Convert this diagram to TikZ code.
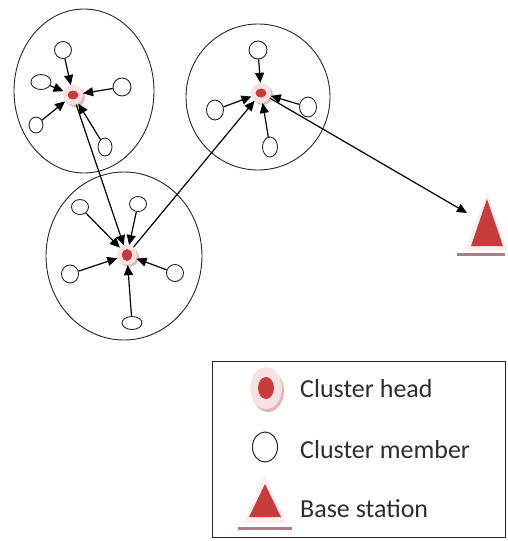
\documentclass[tikz,border=0pt]{standalone}
\usepackage{fontspec}
\setmainfont{Carlito}
\usetikzlibrary{arrows.meta,shapes.geometric}

\definecolor{chred}{HTML}{C63B3C}
\definecolor{halo}{HTML}{F7E2E2}
\definecolor{trihalo}{HTML}{FAEDED}
\definecolor{haloshade}{HTML}{E2B6B6}
\definecolor{barcol}{HTML}{A98088}
\definecolor{legtext}{HTML}{2E2E2E}

\tikzset{
  cluster/.style={draw=black!85, line width=0.9pt},
  member/.style={ellipse, draw=black!85, line width=0.9pt, fill=white,
                 inner sep=0pt, minimum width=17pt, minimum height=17pt},
  head/.style={circle, fill=halo, inner sep=0pt, minimum size=20pt},
  link/.style={-{Triangle[length=10pt,width=9pt]}, line width=1.2pt, black},
  legendtext/.style={anchor=base west, font=\fontsize{26}{30}\selectfont, text=legtext, inner sep=0pt}
}

\begin{document}
\begin{tikzpicture}[x=1pt, y=-1pt]
\useasboundingbox (0,0) rectangle (507,541);
\fill[white] (0,0) rectangle (507,541);

% cluster boundaries
\draw[cluster] (84,91) ellipse [x radius=70, y radius=82];
\draw[cluster] (258,97) ellipse [x radius=72, y radius=73];
\draw[cluster] (124,256) ellipse [x radius=78, y radius=84];

% cluster heads (halo with a soft shade)
\fill[haloshade] (75,97) circle (10);
\fill[haloshade] (263,95) circle (10);
\fill[haloshade] (129,257) circle (10);
\node[head] (h1) at (73,95) {};
\node[head] (h2) at (261,93) {};
\node[head] (h3) at (127,255) {};
\fill[chred] (h1) ellipse [x radius=5.5, y radius=4.5];
\fill[chred] (h2) ellipse [x radius=5.5, y radius=4.5];
\fill[chred] (h3) ellipse [x radius=5, y radius=6];

% members of cluster 1
\node[member] (a1) at (63,50) {};
\node[member, minimum width=20pt, minimum height=15pt] (a2) at (41,82) {};
\node[member, minimum width=18pt, minimum height=18pt] (a3) at (122,87) {};
\node[member, minimum width=14pt, minimum height=16pt] (a4) at (36,125) {};
\node[member, minimum width=14pt, minimum height=18pt] (a5) at (105,147) {};

% members of cluster 2
\node[member, minimum width=18pt, minimum height=18pt] (b1) at (258,50) {};
\node[member, minimum width=17pt, minimum height=20pt] (b2) at (215,110) {};
\node[member, minimum width=17pt, minimum height=20pt] (b3) at (308,107) {};
\node[member, minimum width=15pt, minimum height=20pt] (b4) at (270,147) {};

% members of cluster 3
\node[member, minimum width=17pt, minimum height=15pt] (c1) at (80,207) {};
\node[member, minimum width=17pt, minimum height=15pt] (c2) at (138,204) {};
\node[member, minimum width=17pt, minimum height=18pt] (c3) at (70,274) {};
\node[member, minimum width=17pt, minimum height=17pt] (c4) at (175,273) {};
\node[member, minimum width=20pt, minimum height=13pt] (c5) at (132,323) {};

% member to head links
\foreach \m in {a1,a2,a3,a4,a5} \draw[link] (\m) -- (h1);
\foreach \m in {b1,b2,b3,b4} \draw[link] (\m) -- (h2);
\foreach \m in {c1,c2,c3,c4,c5} \draw[link] (\m) -- (h3);

% base station
\fill[trihalo] (487,192) -- (466,250) -- (507,250) -- cycle;
\fill[chred] (487,199) -- (471,246) -- (503,246) -- cycle;
\fill[barcol] (457,252.5) rectangle (505,255.5);
\coordinate (bs) at (467,213);

% head to head route towards the base station
\draw[link] (h1) -- (h3);
\draw[link] (h3) -- (h2);
\draw[link] (h2) -- (bs);

% legend
\draw[black!85, line width=1pt] (212,361) rectangle (505,537);
\fill[haloshade] (268,391) ellipse [x radius=16, y radius=21];
\fill[halo] (266,388) ellipse [x radius=16, y radius=21];
\fill[chred] (266,388) ellipse [x radius=8, y radius=11];
\node[legendtext] (lt1) at (300,397) {Cluster head};

\node[member, minimum width=25pt, minimum height=30pt, line width=1pt] (lm) at (265,447) {};
\node[legendtext] (lt2) at (300,458) {Cluster member};

\fill[trihalo] (265,475) -- (244,522) -- (286,522) -- cycle;
\fill[chred] (265,484) -- (249,517) -- (281,517) -- cycle;
\fill[barcol] (238,526.5) rectangle (292,529.5);
\node[legendtext] (lt3) at (300,517) {Base station};
\end{tikzpicture}
\end{document}
